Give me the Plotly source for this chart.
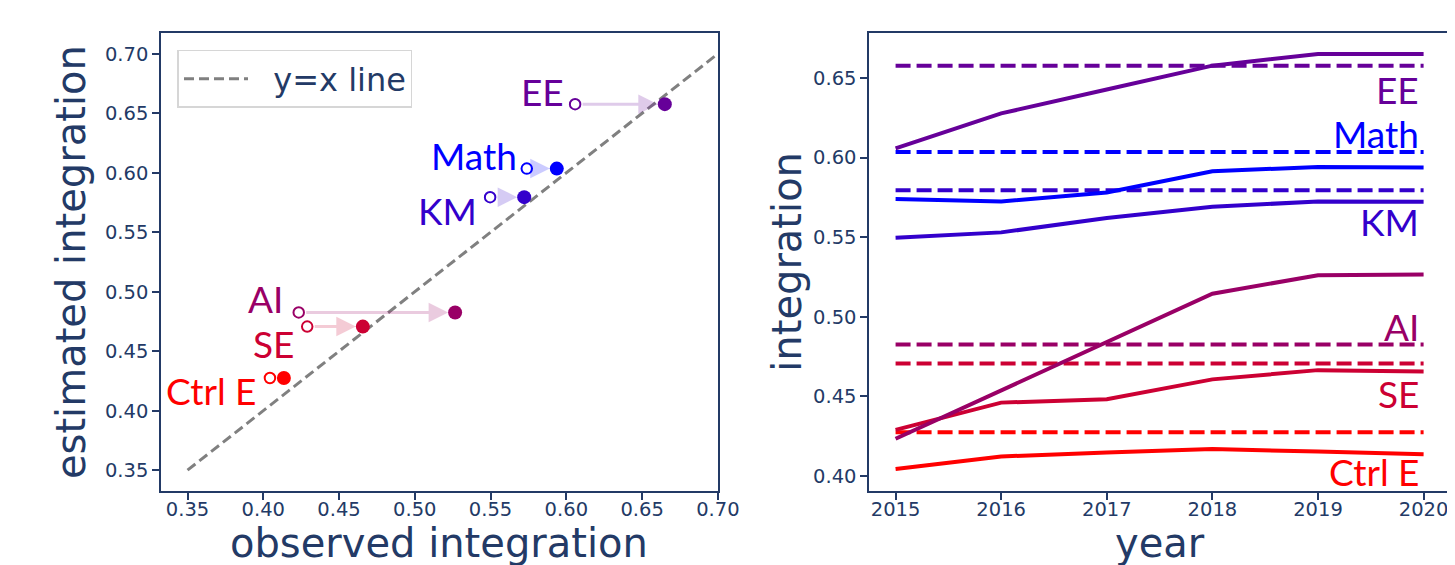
import plotly.graph_objects as go

# ---------------- data ----------------
years = [2015, 2016, 2017, 2018, 2019, 2020]
fields = ["Ctrl E", "SE", "AI", "EE", "KM", "Math"]
ctrl_e = [0.4044, 0.4123, 0.4148, 0.4169, 0.4154, 0.4136]
se = [0.4290, 0.4461, 0.4482, 0.4607, 0.4665, 0.4657]
ai = [0.4234, 0.4540, 0.4842, 0.5145, 0.5261, 0.5266]
ee = [0.6058, 0.6277, 0.6427, 0.6577, 0.6650, 0.6650]
km = [0.5497, 0.5530, 0.5620, 0.5691, 0.5724, 0.5722]
math_ = [0.5739, 0.5724, 0.5781, 0.5914, 0.5941, 0.5937]
estimated = [0.4275, 0.4707, 0.4826, 0.6577, 0.5795, 0.6035]
diag = [0.35, 0.70]
x_ticks = [0.35, 0.40, 0.45, 0.50, 0.55, 0.60, 0.65, 0.70]
y2_ticks = [0.40, 0.45, 0.50, 0.55, 0.60, 0.65]

series = [ctrl_e, se, ai, ee, km, math_]
colors = ["#ff0000", "#cc0033", "#990066", "#660099", "#3300cc", "#0000ff"]
rgb = [(255, 0, 0), (204, 0, 51), (153, 0, 102), (102, 0, 153), (51, 0, 204), (0, 0, 255)]
# label offsets (pixels): left panel (xshift, yshift), right panel yshift
left_off = [(-12, -13), (-11, -17), (-14, 14), (-9, 13), (-11, -13), (-8, 13)]
right_off = [-39, -30, 18, -24, -31, 18]

NAVY = "#233a66"
LABEL_FONT = "Lato"

fig = go.Figure()

# y = x line
fig.add_trace(go.Scatter(x=diag, y=diag, mode="lines", name="\u00a0\u00a0y=x line",
                         line=dict(color="#808080", width=3, dash="10px,5px"),
                         xaxis="x", yaxis="y", showlegend=True))

for f, s, est, c, (r, g, b), (dx, dy) in zip(fields, series, estimated, colors, rgb, left_off):
    x0, x1 = s[0], s[-1]
    # arrow from open (first year) to filled (last year)
    fig.add_annotation(x=x1, y=est, ax=x0, ay=est, xref="x", yref="y", axref="x", ayref="y",
                       showarrow=True, arrowhead=2, arrowsize=1.3, arrowwidth=3,
                       arrowcolor=f"rgba({r},{g},{b},0.2)", standoff=7, startstandoff=6, text="")
    fig.add_trace(go.Scatter(x=[x1], y=[est], mode="markers", xaxis="x", yaxis="y",
                             marker=dict(color=c, size=14, line=dict(width=0)), showlegend=False))
    fig.add_trace(go.Scatter(x=[x0], y=[est], mode="markers", xaxis="x", yaxis="y",
                             marker=dict(color="white", size=10.5, line=dict(color=c, width=2)),
                             showlegend=False))
    fig.add_annotation(x=x0, y=est, xref="x", yref="y", text=f, showarrow=False,
                       xanchor="right", yanchor="middle", xshift=dx, yshift=dy,
                       font=dict(family=LABEL_FONT, size=37, color=c))

# right panel
for f, s, est, c, dy in zip(fields, series, estimated, colors, right_off):
    fig.add_trace(go.Scatter(x=years, y=s, mode="lines", xaxis="x2", yaxis="y2",
                             line=dict(color=c, width=4), showlegend=False))
    fig.add_trace(go.Scatter(x=[years[0], years[-1]], y=[est, est], mode="lines",
                             xaxis="x2", yaxis="y2",
                             line=dict(color=c, width=4, dash="15px,6px"), showlegend=False))
    fig.add_annotation(x=years[-1], y=est, xref="x2", yref="y2", text=f, showarrow=False,
                       xanchor="right", yanchor="middle", xshift=-3, yshift=dy,
                       font=dict(family=LABEL_FONT, size=37, color=c))

axis_common = dict(showline=True, mirror=True, linecolor=NAVY, linewidth=1.5,
                   ticks="outside", ticklen=7, tickwidth=1.5, tickcolor=NAVY,
                   showgrid=False, zeroline=False,
                   tickfont=dict(family="DejaVu Sans", size=19.5, color=NAVY),
                   automargin=False)
title_font = dict(family="DejaVu Sans", size=40, color=NAVY)

# axis titles (placed as paper annotations for exact placement)
PW = 1455 - 153 - 12.5
PH = 565 - 25 - 81.7
titles = [
    ("observed integration", (431.5 - 153) / PW, -(535 - 483.3) / PH, 0),
    ("year", (1152 - 153) / PW, -(535 - 483.3) / PH, 0),
    ("estimated integration", (63 - 153) / PW, 0.5, -90),
    ("integration", (779 - 153) / PW, 0.5, -90),
]
for t, tx, ty, ang in titles:
    fig.add_annotation(x=tx, y=ty, xref="paper", yref="paper", text=t, showarrow=False,
                       xanchor="center", yanchor="middle", textangle=ang, font=title_font)

fig.update_layout(
    width=1455, height=565,
    margin=dict(l=153, r=12.5, t=25, b=81.7, pad=0),
    paper_bgcolor="white", plot_bgcolor="white",
    xaxis=dict(domain=[0, 0.4320], range=[0.3325, 0.70], tickvals=x_ticks,
               tickformat=".2f", anchor="y", ticklabelstandoff=-7, **axis_common),
    yaxis=dict(domain=[0, 1], range=[0.3325, 0.7175], tickvals=x_ticks, tickformat=".2f",
               anchor="x", **axis_common),
    xaxis2=dict(domain=[0.5494, 1], range=[2014.75, 2020.25], tickvals=years,
                anchor="y2", ticklabelstandoff=-7, **axis_common),
    yaxis2=dict(domain=[0, 1], range=[0.3906, 0.6782], tickvals=y2_ticks, tickformat=".2f",
                anchor="x2", **axis_common),
    legend=dict(x=0.0128, y=0.963, xanchor="left", yanchor="top",
                bgcolor="white", bordercolor="#d6d6d6", borderwidth=1.5,
                font=dict(family="DejaVu Sans", size=32, color=NAVY), itemwidth=64),
    showlegend=True,
)

fig.write_html("out.html")
